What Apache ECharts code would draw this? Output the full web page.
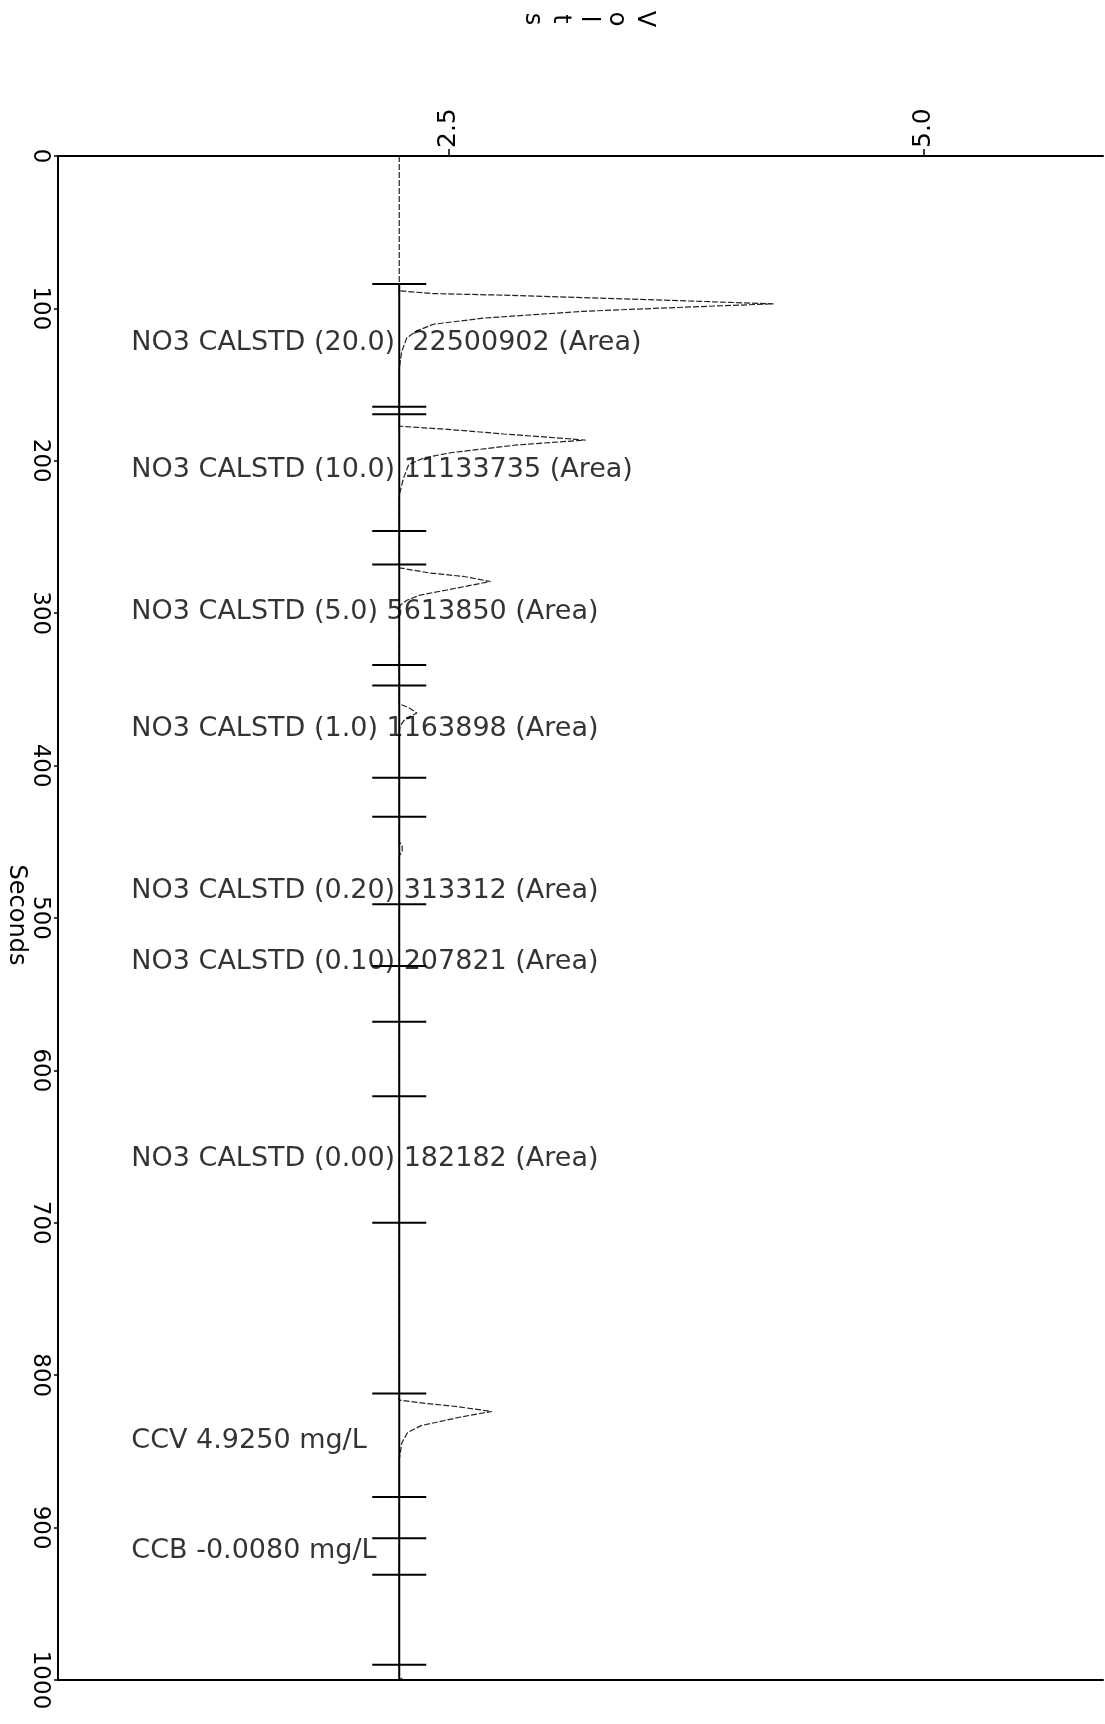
<!DOCTYPE html>
<html>
<head>
<meta charset="utf-8">
<script src="https://cdn.jsdelivr.net/npm/echarts@6/dist/echarts.min.js"></script>
<style>
html,body{margin:0;padding:0;background:#fff;}
#chart{width:1105px;height:1724px;}
</style>
</head>
<body>
<div id="chart"></div>
<script>
// ---- data ----
// detector trace: time in seconds and signal in volts
const traceSec  = [0, 88.5, 90.3, 91.4, 94.3, 97.0, 99.2, 101.9, 106.4, 110.4, 114.9, 119.3, 128.3, 139.5,
                   177.3, 179.5, 182.4, 184.6, 186.4, 189.6, 194.7, 198.1, 202.5, 211.5, 222.7,
                   270.2, 273.6, 275.9, 279.2, 284.8, 288.1, 291.5, 294.8, 300,
                   359.5, 362, 365.5, 369.5, 374, 378,
                   450, 452.5, 456.5, 459,
                   816.4, 818.5, 820.7, 823.8, 827.6, 833.1, 837.6, 844.3, 855.3,
                   998, 1000];
const traceVolt = [2.24, 2.24, 2.42, 2.82, 3.56, 4.21, 3.74, 3.21, 2.68, 2.42, 2.33, 2.28, 2.253, 2.24,
                   2.24, 2.51, 2.79, 3.03, 3.22, 2.86, 2.51, 2.37, 2.29, 2.262, 2.24,
                   2.24, 2.40, 2.58, 2.72, 2.49, 2.35, 2.28, 2.245, 2.24,
                   2.24, 2.29, 2.333, 2.27, 2.245, 2.24,
                   2.24, 2.255, 2.256, 2.24,
                   2.24, 2.38, 2.55, 2.727, 2.556, 2.355, 2.284, 2.254, 2.24,
                   2.24, 2.262];
// integration event markers (seconds)
const markerSec = [84, 164.5, 169.5, 246, 268, 334, 347.5, 408, 433.5, 491, 531.5, 568, 617, 700,
                   812, 880, 907, 931, 990, 1000];
const baselineVolt = 2.24;
// peak annotations
const labelSec  = [123, 206, 299.5, 376, 482, 529, 658, 843, 915.5];
const labelText = ['NO3 CALSTD (20.0)  22500902 (Area)',
                   'NO3 CALSTD (10.0) 11133735 (Area)',
                   'NO3 CALSTD (5.0) 5613850 (Area)',
                   'NO3 CALSTD (1.0) 1163898 (Area)',
                   'NO3 CALSTD (0.20) 313312 (Area)',
                   'NO3 CALSTD (0.10) 207821 (Area)',
                   'NO3 CALSTD (0.00) 182182 (Area)',
                   'CCV 4.9250 mg/L',
                   'CCB -0.0080 mg/L'];
// axis ticks and titles
const voltTicks = [2.5, 5.0];
const secMin = 0, secMax = 1000, secStep = 100;
const voltMin = 0.444, voltMax = 5.944;
const xTitle = 'Volts';
const yTitle = 'Seconds';

// ---- layout / style ----
const FONT = 'DejaVu Sans, Verdana, sans-serif';
const labelAnchorVolt = 0.83;

const chart = echarts.init(document.getElementById('chart'));
const option = {
  animation: false,
  backgroundColor: '#fff',
  grid: { left: 58, right: 2, top: 156, bottom: 44, containLabel: false, outerBoundsMode: 'none' },
  xAxis: [
    {
      type: 'value', position: 'top', min: voltMin, max: voltMax,
      axisLine: { show: true, onZero: false, lineStyle: { color: '#000', width: 2 } },
      axisTick: { show: true, customValues: voltTicks, length: 7, lineStyle: { color: '#000', width: 1.5 } },
      axisLabel: { show: true, customValues: voltTicks, rotate: -90, margin: 8,
                   formatter: v => Number(v).toFixed(1), fontSize: 25, color: '#000', fontFamily: FONT },
      splitLine: { show: false }
    },
    {
      type: 'value', position: 'bottom', min: voltMin, max: voltMax,
      axisLine: { show: true, onZero: false, lineStyle: { color: '#000', width: 2 } },
      axisTick: { show: false }, axisLabel: { show: false }, splitLine: { show: false }
    }
  ],
  yAxis: {
    type: 'value', inverse: true, min: secMin, max: secMax, interval: secStep,
    axisLine: { show: true, onZero: false, lineStyle: { color: '#000', width: 2 } },
    axisTick: { show: true, length: 4, lineStyle: { color: '#000', width: 1.5 } },
    axisLabel: { rotate: -90, margin: 7, fontSize: 23, color: '#000', fontFamily: FONT,
                 formatter: v => String(v) },
    splitLine: { show: false }
  },
  graphic: [
    {
      type: 'text', x: 588, y: 19, rotation: -Math.PI / 2,
      style: { text: xTitle.split('').join('\n'), font: '24px ' + FONT, fill: '#000',
               align: 'center', verticalAlign: 'middle', lineHeight: 28 }
    },
    {
      type: 'text', x: 16, y: 915, rotation: -Math.PI / 2,
      style: { text: yTitle, font: '24px ' + FONT, fill: '#000',
               align: 'center', verticalAlign: 'middle' }
    }
  ],
  series: [
    {
      type: 'line', name: 'trace', xAxisIndex: 0,
      data: traceSec.map((s, i) => [traceVolt[i], s]),
      showSymbol: false, symbol: 'none', smooth: false,
      lineStyle: { color: '#222', width: 1.2, type: [6, 2] }, z: 3
    },
    {
      type: 'line', name: 'baseline', xAxisIndex: 0,
      data: [[baselineVolt, markerSec[0]], [baselineVolt, markerSec[markerSec.length - 1]]],
      showSymbol: false, symbol: 'none',
      lineStyle: { color: '#000', width: 2 }, z: 4
    },
    {
      type: 'custom', name: 'markers', xAxisIndex: 0,
      data: markerSec.map(s => [baselineVolt, s]),
      renderItem: (params, api) => {
        const p = api.coord([api.value(0), api.value(1)]);
        return { type: 'line', shape: { x1: p[0] - 27, y1: p[1], x2: p[0] + 27, y2: p[1] },
                 style: { stroke: '#000', lineWidth: 2 } };
      },
      clip: false, z: 5
    },
    {
      type: 'scatter', name: 'labels', xAxisIndex: 0,
      data: labelSec.map((s, i) => ({ name: labelText[i], value: [labelAnchorVolt, s] })),
      symbolSize: 0,
      label: { show: true, position: 'right', distance: 0, formatter: p => p.name,
               fontSize: 27, color: '#000', fontFamily: FONT },
      z: 6
    }
  ]
};
chart.setOption(option);
</script>
</body>
</html>
